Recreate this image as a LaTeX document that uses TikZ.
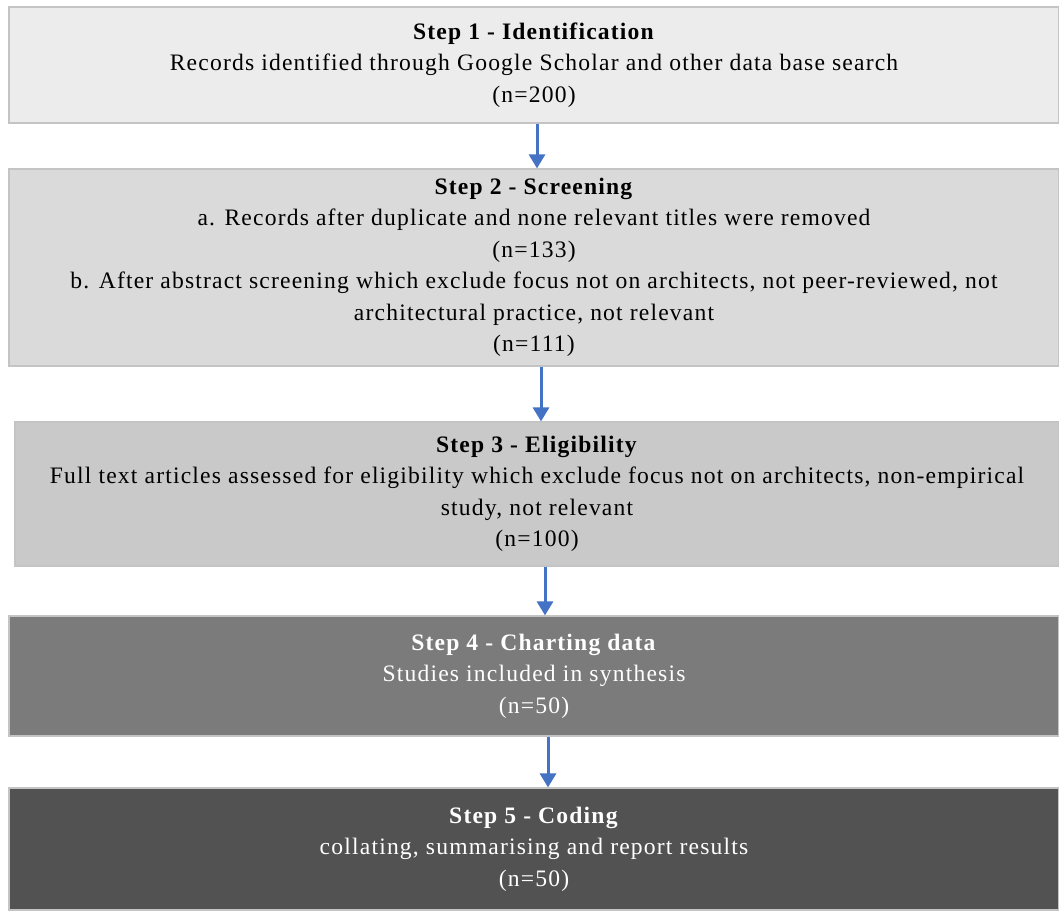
\documentclass[tikz,border=0pt]{standalone}
\usepackage{fontspec}
\setmainfont{Liberation Serif}
\usetikzlibrary{arrows.meta,calc}
\definecolor{c1}{HTML}{ECECEC}
\definecolor{c2}{HTML}{DADADA}
\definecolor{c3}{HTML}{C9C9C9}
\definecolor{c4}{HTML}{7B7B7B}
\definecolor{c5}{HTML}{525252}
\definecolor{edge}{HTML}{C4C4C4}
\definecolor{arrblue}{HTML}{4472C4}
\tikzset{
  stepbox/.style={rectangle, draw=edge, line width=1.2pt, align=center, inner sep=0pt,
    font=\fontsize{23.6}{31.5}\selectfont\addfontfeatures{LetterSpace=5}},
  flowarrow/.style={draw=arrblue, line width=3pt, -{Triangle[length=14pt,width=16pt]}}
}
\begin{document}
\begin{tikzpicture}[x=1pt,y=1pt]
\useasboundingbox (0,0) rectangle (1059,910);
\node[stepbox, fill=c1, minimum width=1050, minimum height=116] (b1) at (534,845)
  {\textbf{Step 1 - Identification}\\Records identified through Google Scholar and other data base search\\(n=200)};
\node[stepbox, fill=c2, minimum width=1050, minimum height=197] (b2) at (534,642.5)
  {\textbf{Step 2 - Screening}\\a. Records after duplicate and none relevant titles were removed\\(n=133)\\b. After abstract screening which exclude focus not on architects, not peer-reviewed, not\\architectural practice, not relevant\\(n=111)};
\node[stepbox, fill=c3, minimum width=1044, minimum height=144] (b3) at (537,416)
  {\textbf{Step 3 - Eligibility}\\Full text articles assessed for eligibility which exclude focus not on architects, non-empirical\\study, not relevant\\(n=100)};
\node[stepbox, fill=c4, text=white, minimum width=1050, minimum height=120] (b4) at (534,234)
  {\textbf{Step 4 - Charting data}\\Studies included in synthesis\\(n=50)};
\node[stepbox, fill=c5, text=white, minimum width=1050, minimum height=122] (b5) at (534,61)
  {\textbf{Step 5 - Coding}\\collating, summarising and report results\\(n=50)};
\draw[flowarrow] (b1.south -| 537,0) -- (b2.north -| 537,0);
\draw[flowarrow] (b2.south -| 541,0) -- (b3.north -| 541,0);
\draw[flowarrow] (b3.south -| 545,0) -- (b4.north -| 545,0);
\draw[flowarrow] (b4.south -| 548,0) -- (b5.north -| 548,0);
\end{tikzpicture}
\end{document}
